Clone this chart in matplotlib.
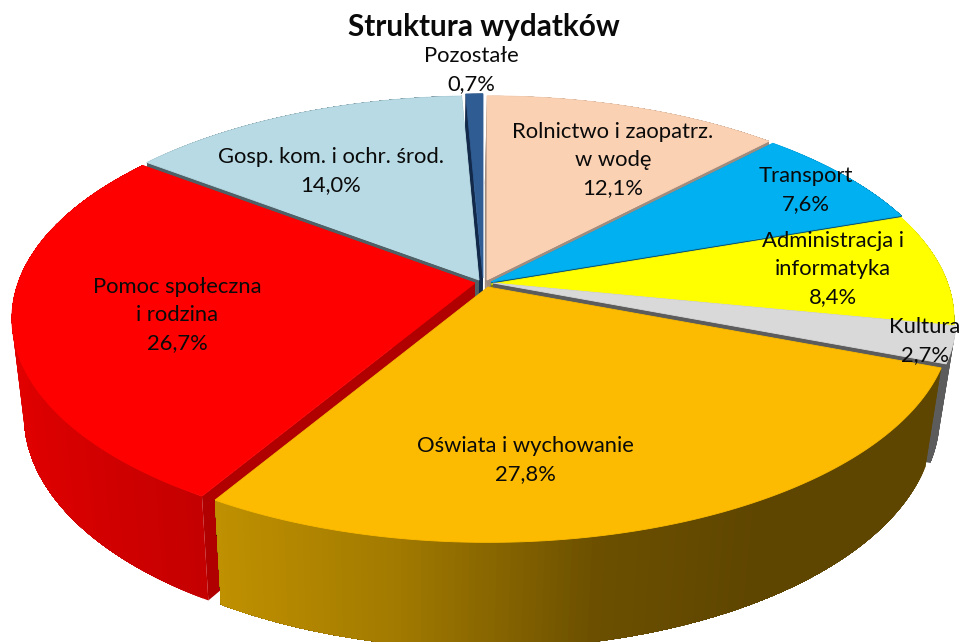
import numpy as np
import matplotlib
matplotlib.use('Agg')
import matplotlib.pyplot as plt
from matplotlib.colors import to_rgb
from matplotlib.patches import Polygon

plt.rcParams['font.family'] = ['Lato', 'DejaVu Sans']

# ===== data =====
title = 'Struktura wydatków'
categories = ['Rolnictwo i zaopatrz.\nw wodę', 'Transport', 'Administracja i\ninformatyka', 'Kultura',
              'Oświata i wychowanie', 'Pomoc społeczna\ni rodzina', 'Gosp. kom. i ochr. środ.', 'Pozostałe']
values = [12.1, 7.6, 8.4, 2.7, 27.8, 26.7, 14.0, 0.7]

# ===== styles =====
top_colors = ['#FBD1B3', '#00B0F0', '#FFFF00', '#D9D9D9', '#FCBB00', '#FF0000', '#B7DAE4', '#2F5C92']
side_colors = ['#A08C7E', '#0B5578', '#7F7F00', '#5C5C5C', '#5F4600', '#B00000', '#4F6066', '#12294A']
apex = [(487, 280), (491, 282), (491, 284), (493, 283), (488, 287), (475, 283), (479, 280), (483, 278)]
label_xy = [(613, 160), (806, 190), (833, 269), (925, 341), (525, 460), (177, 315), (331, 171), (471, 70)]

# orange and red have shaded outer walls, x position -> colour
shade = {4: ([220, 400, 600, 760], ['#BF9000', '#A27A00', '#6C5000', '#5F4600']),
         5: ([15, 100, 205], ['#E00000', '#D20000', '#C40000'])}

R, K, P = 457.0, 214.0, 0.162


def project(a, th):
    s = 1 / (1 + P * np.cos(th))
    return a[0] + R * np.sin(th) * s, a[1] - K * np.cos(th) * s


def drop(x, y):
    # bottom edge of the pie, a little smaller because it is further away
    return 415 + (x - 415) * 0.97, y + 99 + 0.04 * (y - 363)


def wall_color(i, x):
    if i not in shade:
        return side_colors[i]
    xs, cols = shade[i]
    rgb = np.array([to_rgb(c) for c in cols])
    return tuple(np.interp(x, xs, rgb[:, k]) for k in range(3))


fig = plt.figure(figsize=(9.6, 6.42), dpi=100)
ax = fig.add_axes([0, 0, 1, 1])
ax.set_xlim(0, 960)
ax.set_ylim(642, 0)
ax.axis('off')

edges = np.radians(np.cumsum([0] + values) / sum(values) * 360)

# back slices first, so the front ones cover them
order = [7, 0, 1, 2, 3, 6, 5, 4]
for z, i in enumerate(order):
    th = np.linspace(edges[i], edges[i + 1], max(int(values[i] * 5), 4))
    xs, ys = project(apex[i], th)
    bx, by = drop(xs, ys)
    ax0, ay0 = apex[i]
    bx0, by0 = drop(ax0, ay0)

    # the two straight walls
    for k in (0, -1):
        ax.add_patch(Polygon([(ax0, ay0), (xs[k], ys[k]), (bx[k], by[k]), (bx0, by0)],
                             fc=side_colors[i], ec='none', zorder=z * 3 + 1))
    # outer wall, each strip reaches to the end of the slice and the next one paints over it
    for k in range(len(th) - 1):
        c = wall_color(i, xs[k])
        ax.fill(np.r_[xs[k:], bx[k:][::-1]], np.r_[ys[k:], by[k:][::-1]],
                fc=c, ec='none', zorder=z * 3 + 2)
    # top
    ax.add_patch(Polygon(np.column_stack([np.r_[ax0, xs], np.r_[ay0, ys]]),
                         fc=top_colors[i], ec=top_colors[i], lw=0.6, zorder=z * 3 + 3))

for name, v, (x, y) in zip(categories, values, label_xy):
    s = name + '\n' + f'{v:.1f}'.replace('.', ',') + '%'
    ax.text(x, y, s, ha='center', va='center', fontsize=15.8, color='#0A0A0A', linespacing=1.53, zorder=50)

ax.text(484, 27, title, ha='center', va='center', fontsize=21.4, fontweight='bold', color='#0A0A0A', zorder=50)

fig.savefig('out.png', dpi=100)
